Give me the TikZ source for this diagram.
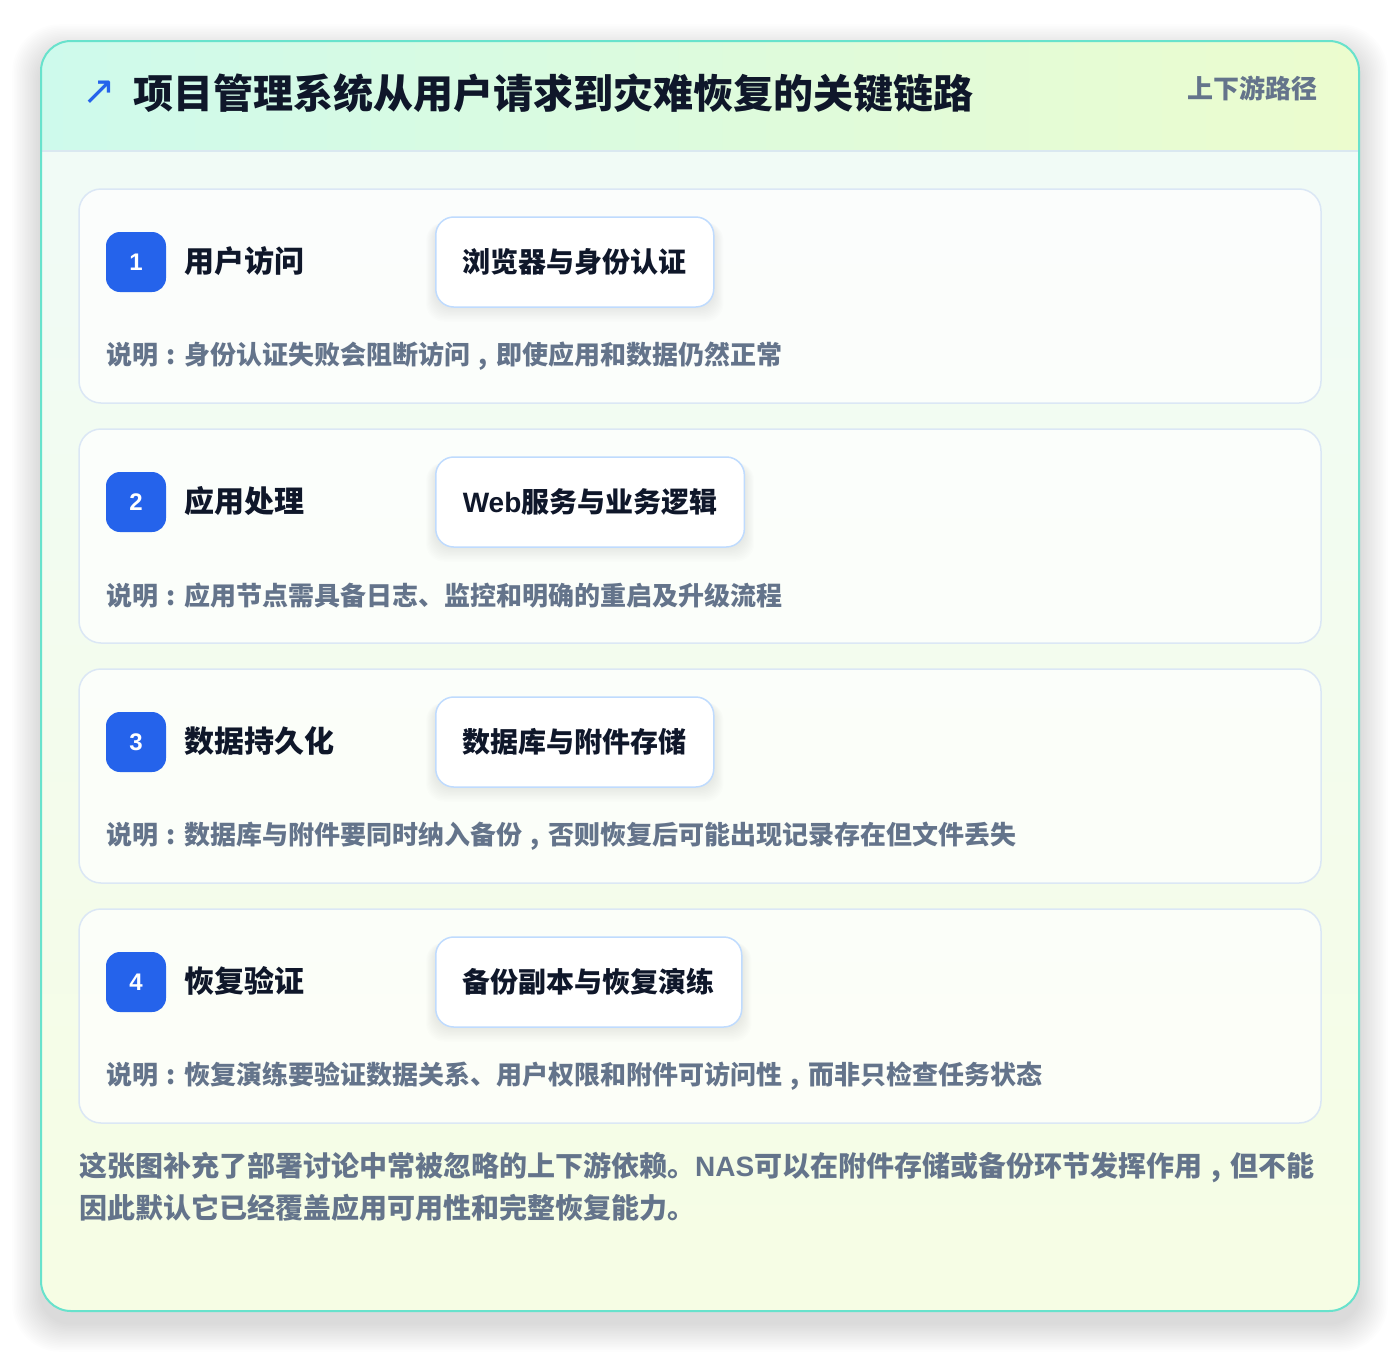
\documentclass[tikz,border=0pt]{standalone}
\usepackage{fontspec}
\newfontfamily\cjk{Noto Sans CJK SC}
\newfontfamily\lat{Liberation Sans}
\newfontfamily\sym{DejaVu Sans}
\newcommand\ccolon{\makebox[1em][c]{:}}
\newcommand\ccomma{\makebox[1em][c]{,}}
\definecolor{tealline}{RGB}{104,226,204}
\definecolor{navy}{RGB}{15,23,42}
\definecolor{slate}{RGB}{100,116,139}
\definecolor{badgeblue}{RGB}{37,99,235}
\definecolor{cardline}{RGB}{219,231,245}
\definecolor{pillline}{RGB}{191,219,254}
\definecolor{hdrleft}{RGB}{206,250,236}
\definecolor{hdrright}{RGB}{236,252,206}
\definecolor{bodytop}{RGB}{240,251,248}
\definecolor{bodybot}{RGB}{246,253,228}
\definecolor{hdrline}{RGB}{218,232,240}
\pgfdeclarelayer{back}
\pgfdeclarelayer{under}
\pgfsetlayers{back,under,main}
\tikzset{
  card/.style={draw=cardline, line width=1.5pt, fill=white, fill opacity=0.72, text opacity=1,
    rounded corners=22pt, minimum width=1242pt, minimum height=214pt, inner sep=0pt},
  badge/.style={fill=badgeblue, rounded corners=14pt, minimum width=60pt, minimum height=60pt,
    inner sep=0pt, text=white, font=\lat\bfseries\fontsize{24}{28}\selectfont},
  steptitle/.style={anchor=west, inner sep=0pt, text=navy, font=\cjk\bfseries\fontsize{30}{36}\selectfont},
  pill/.style={draw=pillline, line width=1.5pt, fill=white, rounded corners=18pt, minimum height=90pt,
    inner xsep=27pt, inner ysep=0pt, anchor=west, text=navy, font=\cjk\bfseries\fontsize{28}{34}\selectfont},
  desc/.style={anchor=west, inner sep=0pt, text=slate, font=\cjk\bfseries\fontsize{26}{32}\selectfont},
}
\begin{document}
\begin{tikzpicture}[x=1pt,y=-1pt]
\useasboundingbox (0,0) rectangle (1400,1352);
\begin{pgfonlayer}{back}
\fill[white] (0,0) rectangle (1400,1352);
% outer shadow
\foreach \i in {1,...,18}
  \fill[black,opacity=0.006,rounded corners={30pt+\i pt}] (41-\i*1.6,41-\i*1.6+12) rectangle (1359+\i*1.6,1311+\i*1.6+12);
% outer card body
\shade[top color=bodytop, bottom color=bodybot, rounded corners=30pt] (41,41) rectangle (1359,1311);
\begin{scope}
  \clip[rounded corners=30pt] (41,41) rectangle (1359,1311);
  \shade[left color=hdrleft, right color=hdrright] (41,41) rectangle (1359,151);
  \draw[hdrline, line width=1.5pt] (41,151) -- (1359,151);
\end{scope}
\draw[tealline, line width=2pt, rounded corners=30pt] (41,41) rectangle (1359,1311);
\end{pgfonlayer}
% header
\node[inner sep=0pt, text=badgeblue, font=\sym\fontsize{40}{44}\selectfont] (arrow) at (99,93) {↗};
\node[anchor=west, inner sep=0pt, text=navy, font=\cjk\bfseries\fontsize{40}{48}\selectfont] (title) at (133,93) {项目管理系统从用户请求到灾难恢复的关键链路};
\node[anchor=east, inner sep=0pt, text=slate, font=\cjk\bfseries\fontsize{26}{32}\selectfont] (tag) at (1318,88) {上下游路径};
% steps
\foreach \n/\st/\bx/\ds in {
  1/用户访问/浏览器与身份认证/{说明\ccolon 身份认证失败会阻断访问\ccomma 即使应用和数据仍然正常},
  2/应用处理/{{\lat\bfseries Web}服务与业务逻辑}/{说明\ccolon 应用节点需具备日志、监控和明确的重启及升级流程},
  3/数据持久化/数据库与附件存储/{说明\ccolon 数据库与附件要同时纳入备份\ccomma 否则恢复后可能出现记录存在但文件丢失},
  4/恢复验证/备份副本与恢复演练/{说明\ccolon 恢复演练要验证数据关系、用户权限和附件可访问性\ccomma 而非只检查任务状态}}{
  \pgfmathsetmacro{\yz}{189+240*(\n-1)}
  \begin{pgfonlayer}{back}
  \node[card] (card\n) at (700,\yz+107) {};
  \end{pgfonlayer}
  \node[badge] (badge\n) at (136,\yz+73) {\n};
  \node[steptitle] (title\n) at (184,\yz+72) {\st};
  \node[pill] (pill\n) at (435,\yz+73) {\bx};
  \begin{pgfonlayer}{under}
  \foreach \k in {1,...,10}
    \fill[black, opacity=0.008, rounded corners=18pt]
      ([xshift=-\k*0.9pt, yshift=-\k*1.4pt]pill\n.south west) rectangle ([xshift=\k*0.9pt, yshift=-6pt]pill\n.north east);
  \end{pgfonlayer}
  \node[desc] (desc\n) at (106,\yz+167) {\ds};
}
% footer
\node[anchor=north west, inner sep=0pt, align=left, text=slate, font=\cjk\bfseries\fontsize{28}{42}\selectfont] (footer) at (79,1152)
  {这张图补充了部署讨论中常被忽略的上下游依赖。{\lat\bfseries NAS}可以在附件存储或备份环节发挥作用\ccomma 但不能\\因此默认它已经覆盖应用可用性和完整恢复能力。};
\end{tikzpicture}
\end{document}
